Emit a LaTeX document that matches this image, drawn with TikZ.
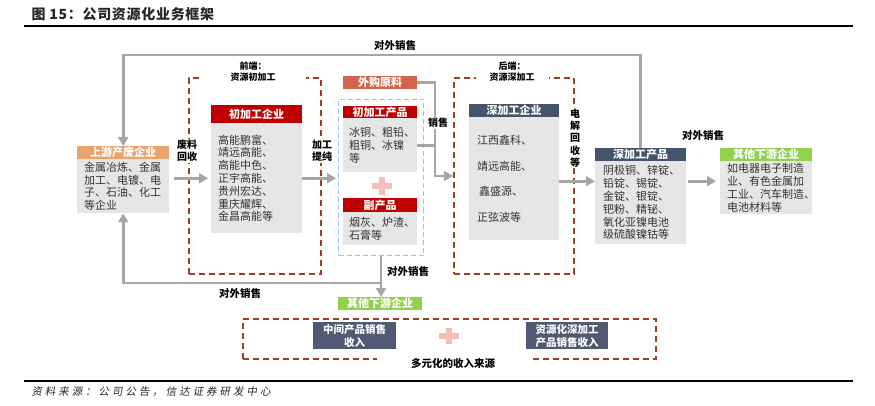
\documentclass[tikz,border=0pt]{standalone}
\usepackage{fontspec}
\setmainfont{Noto Sans CJK SC}
\newfontfamily\srcfont[LetterSpace=28,FakeSlant=0.18]{Noto Sans CJK SC}
\newfontfamily\ttlfont[LetterSpace=5]{Noto Sans CJK SC}
\usetikzlibrary{arrows.meta}
\definecolor{hdrtan}{RGB}{232,163,110}
\definecolor{hdrred}{RGB}{192,0,0}
\definecolor{hdrsalmon}{RGB}{210,100,75}
\definecolor{hdrslate}{RGB}{68,84,106}
\definecolor{hdrgreen}{RGB}{146,208,80}
\definecolor{bodygray}{RGB}{231,230,230}
\definecolor{arrgray}{RGB}{166,166,166}
\definecolor{dashred}{RGB}{165,60,40}
\definecolor{dashblue}{RGB}{157,195,230}
\definecolor{incslate}{RGB}{80,90,115}
\definecolor{pluspink}{RGB}{246,190,185}
\tikzset{
  hdr/.style={fill=#1, text=white, font=\fontsize{11}{13}\selectfont\bfseries, inner sep=0pt, anchor=north west, minimum height=13pt},
  bodybox/.style={fill=bodygray, text=black!80, font=\fontsize{11}{12.8}\selectfont, inner xsep=7pt, inner ysep=0pt, anchor=north west, align=left},
  reddash/.style={draw=dashred, line width=1.6pt, dash pattern=on 6pt off 4pt, anchor=north west, inner sep=0pt},
  bluedash/.style={draw=dashblue, line width=1pt, dash pattern=on 5pt off 3pt, anchor=north west, inner sep=0pt},
  conn/.style={draw=arrgray, line width=2.8pt},
  arr/.style={conn, -{Triangle[length=9pt,width=10pt]}},
  lbl/.style={font=\fontsize{10}{12}\selectfont\bfseries, text=black, inner sep=1pt, align=center},
  wlbl/.style={lbl, fill=white},
  inc/.style={fill=incslate, text=white, font=\fontsize{10.5}{13}\selectfont\bfseries, align=center, inner sep=0pt, anchor=north west, minimum height=27pt},
}
\begin{document}
\begin{tikzpicture}[x=1pt,y=-1pt]
\useasboundingbox (0,0) rectangle (875,406);
% title and rules
\node[anchor=west, font=\ttlfont\fontsize{14}{16}\selectfont\bfseries, text=black!85] (title) at (28,14) {图 15：公司资源化业务框架};
\draw[line width=2.5pt] (24,26) -- (853,26);
\draw[line width=2.2pt] (24,381) -- (853,381);
\node[anchor=west, font=\srcfont\fontsize{10.5}{12}\selectfont, text=black!85] (src) at (28,392) {资料来源：公司公告，信达证券研发中心};
% containers
\node[reddash, minimum width=132pt, minimum height=196pt] (front) at (188,77) {};
\node[reddash, minimum width=120pt, minimum height=196pt] (back) at (453,77) {};
\node[bluedash, minimum width=85pt, minimum height=156pt] (mid) at (338,99) {};
\node[reddash, minimum width=413pt, minimum height=40pt] (incframe) at (242,318) {};
% upstream
\node[hdr=hdrtan, minimum width=92pt] (upH) at (77,146) {上游产废企业};
\node[bodybox, text width=78pt, minimum height=54pt] (upB) at (77,159) {金属冶炼、金属\\加工、电镀、电\\子、石油、化工\\等企业};
% primary processing
\node[hdr=hdrred, minimum width=91pt, minimum height=18pt] (c1H) at (211,105) {初加工企业};
\node[bodybox, text width=77pt, minimum height=110pt] (c1B) at (211,123) {高能鹏富、\\靖远高能、\\高能中色、\\正宇高能、\\贵州宏达、\\重庆耀辉、\\金昌高能等};
% middle products
\node[hdr=hdrsalmon, minimum width=74pt] (wg) at (343,76) {外购原料};
\node[hdr=hdrred, minimum width=74pt, minimum height=12pt] (p1H) at (343,106) {初加工产品};
\node[bodybox, inner xsep=6pt, text width=62pt, minimum height=54pt] (p1B) at (343,118) {冰铜、粗铅、\\粗铜、冰镍\\等};
\node[hdr=hdrred, minimum width=74pt, minimum height=14pt] (p2H) at (343,198) {副产品};
\node[bodybox, inner xsep=6pt, text width=62pt, minimum height=33pt] (p2B) at (343,212) {烟灰、炉渣、\\石膏等};
\fill[pluspink] (372,183) rectangle (392,189);
\fill[pluspink] (379,177) rectangle (385,195);
% deep processing
\node[hdr=hdrslate, minimum width=90pt] (d1H) at (469,104) {深加工企业};
\node[bodybox, inner xsep=8pt, text width=74pt, minimum height=123pt, font=\fontsize{11}{25.6}\selectfont] (d1B) at (469,117) {江西鑫科、\\靖远高能、\\\,鑫盛源、\\正弦波等};
\node[hdr=hdrslate, minimum width=91pt] (d2H) at (595,148) {深加工产品};
\node[bodybox, inner xsep=8pt, text width=75pt, minimum height=83pt] (d2B) at (595,161) {阴极铜、锌锭、\\铅锭、锡锭、\\金锭、银锭、\\钯粉、精铋、\\氧化亚镍电池\\级硫酸镍钴等};
% downstream
\node[hdr=hdrgreen, minimum width=92pt] (oH) at (720,148) {其他下游企业};
\node[bodybox, text width=78pt, minimum height=53pt] (oB) at (720,161) {如电器电子制造\\业、有色金属加\\工业、汽车制造、\\电池材料等};
\node[hdr=hdrgreen, minimum width=84pt] (ob) at (338,297) {其他下游企业};
% income
\node[inc, minimum width=83pt] (i1) at (313,322) {中间产品销售\\收入};
\node[inc, minimum width=82pt] (i2) at (526,322) {资源化深加工\\产品销售收入};
\fill[pluspink] (439,333) rectangle (459,339);
\fill[pluspink] (446,328) rectangle (452,344);
% connectors
\draw[arr, shorten <=5pt, shorten >=3pt] ([yshift=8pt]upB.east) -- ([yshift=8pt]upB.east -| c1B.west);
\draw[arr, shorten >=2pt] (c1B.east) -- (c1B.east -| mid.west);
\coordinate (bend) at (435,176);
\draw[arr] (wg.east) -| (bend) -- (bend -| back.west);
\draw[conn] (p1B.east) -- (p1B.east -| bend);
\draw[arr] ([yshift=-2.5pt]d1B.east) -- ([yshift=-2.5pt]d1B.east -| d2B.west);
\draw[arr, shorten <=2pt, shorten >=4pt] ([yshift=21.5pt]d2B.east) -- ([yshift=21.5pt]d2B.east -| oB.west);
\draw[arr] (d2H.north) -- ++(0,-93) -| (upH.north);
\draw[arr] (mid.south) -- (mid.south |- ob.north);
\path (mid.south) ++(0,27) coordinate (split);
\draw[arr] (split) -| (upB.south);
% labels
\node[lbl, font=\fontsize{10.5}{12}\selectfont\bfseries] (lt) at (395,45) {对外销售};
\node[wlbl, font=\fontsize{9}{11}\selectfont\bfseries, inner xsep=30pt] (lf) at (253,72) {前端：\\资源初加工};
\node[wlbl, font=\fontsize{9}{11}\selectfont\bfseries, inner xsep=14pt] (lb) at (512,72) {后端：\\资源深加工};
\node[wlbl] (lw) at (187,151) {废料\\回收};
\node[wlbl] (lp) at (322,151) {加工\\提纯};
\node[wlbl] (ls) at (438,123) {销售};
\node[wlbl, font=\fontsize{10}{12.3}\selectfont\bfseries] (le) at (575,138) {电\\解\\回\\收\\等};
\node[lbl, font=\fontsize{10.5}{12}\selectfont\bfseries] (lr) at (703,135) {对外销售};
\node[lbl, font=\fontsize{10.5}{12}\selectfont\bfseries] (lm) at (408,271) {对外销售};
\node[lbl, font=\fontsize{10.5}{12}\selectfont\bfseries] (ll) at (240,293) {对外销售};
\node[wlbl, font=\fontsize{10.5}{12}\selectfont\bfseries, inner xsep=34pt] (li) at (453,364) {多元化的收入来源};
\end{tikzpicture}
\end{document}
